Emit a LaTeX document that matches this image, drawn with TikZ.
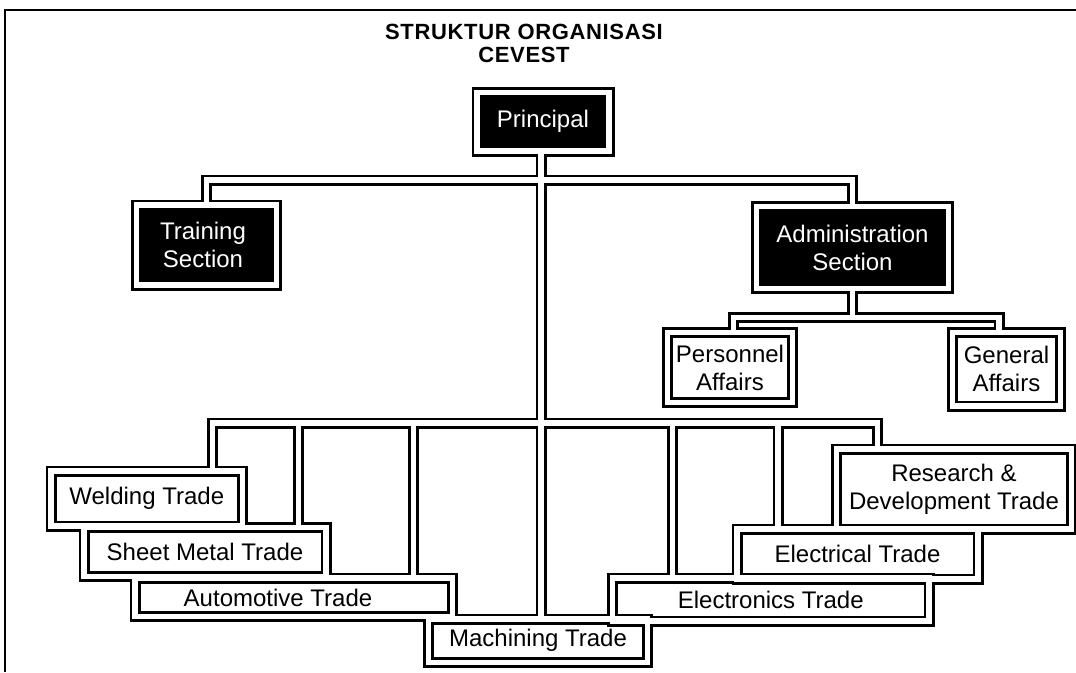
\documentclass[tikz,border=0pt]{standalone}
\usepackage{fontspec}
\newfontfamily\lab{Liberation Sans}
\newcommand\orgtubes[1]{%
  \foreach \n in {P,TR,AD,PE,GA,WE,SM,AU,MA,EN,EL,RD}
    \draw[#1] (\n.north west) rectangle (\n.south east);
  \draw[#1] (mtop) -- (mbot);
  \draw[#1] (TR.north) |- (ubus) -| (AD.north);
  \draw[#1] (AD.south) |- (abus);
  \draw[#1] (ppipe) |- (abus) -| (gpipe);
  \draw[#1] (b1) |- (lbus) -| (b7);
  \foreach \p in {p2,p3,p5,p6}
    \draw[#1] (\p |- lbus) -- (\p);
}
\begin{document}
\begin{tikzpicture}[x=1pt,y=-1pt,
  frame/.style={rectangle,inner sep=0pt,outer sep=0pt},
  tubeout/.style={line width=11pt,black,line join=miter},
  tubein/.style={line width=5.5pt,white,line join=miter},
  txt/.style={font=\lab\fontsize{24}{28}\selectfont,align=center,inner sep=0pt},
  dtxt/.style={txt,text=white,font=\lab\fontsize{24}{28}\selectfont},
  ttl/.style={font=\lab\bfseries\fontsize{22}{26}\selectfont\addfontfeatures{LetterSpace=3},inner sep=0pt}]
\useasboundingbox (0,0) rectangle (1076,672);
\fill[white] (0,0) rectangle (1076,672);
% page border
\draw[line width=2.5pt] (5,672) -- (5,10) -- (1076,10);
% frames (centre lines of the double frames)
\node[frame,minimum width=132pt,minimum height=58.5pt] (P)  at (543,121.75) {};
\node[frame,minimum width=140pt,minimum height=80pt]   (TR) at (206.5,245) {};
\node[frame,minimum width=192pt,minimum height=82pt]   (AD) at (852.5,247.5) {};
\node[frame,minimum width=125pt,minimum height=70pt]   (PE) at (730,367.5) {};
\node[frame,minimum width=108pt,minimum height=73.5pt] (GA) at (1006.5,369.25) {};
\node[frame,minimum width=191.5pt,minimum height=55pt] (WE) at (146.75,498.5) {};
\node[frame,minimum width=242pt,minimum height=49pt]   (SM) at (205,552) {};
\node[frame,minimum width=317.5pt,minimum height=38.5pt] (AU) at (293.75,597.25) {};
\node[frame,minimum width=219pt,minimum height=43.5pt] (MA) at (538,640.75) {};
\node[frame,minimum width=316.5pt,minimum height=43pt] (EN) at (770.75,599.5) {};
\node[frame,minimum width=241pt,minimum height=50pt]   (EL) at (857.5,554) {};
\node[frame,minimum width=235pt,minimum height=80pt]   (RD) at (954,489) {};
% connector points
\coordinate (mtop) at (541,151);
\coordinate (mbot) at (541,619);
\coordinate (ubus) at (541,180);
\coordinate (abus) at (852.5,317.5);
\coordinate (ppipe) at (733.5,332.5);
\coordinate (gpipe) at (999,332.5);
\coordinate (lbus) at (541,423);
\coordinate (b1) at (212.5,471);
\coordinate (b7) at (877.5,449);
\coordinate (p2) at (298.5,527.5);
\coordinate (p3) at (413.5,578);
\coordinate (p5) at (672.5,578);
\coordinate (p6) at (778,529);
% double-line tubes: outer strokes, dark fills, inner white channels
\orgtubes{tubeout}
\foreach \n in {P,TR,AD} \fill[black] (\n.north west) rectangle (\n.south east);
\orgtubes{tubein}
% texts
\node[ttl] (title) at (524,32) {STRUKTUR ORGANISASI};
\node[ttl] (cev) at (524,55) {CEVEST};
\node[dtxt] (tP)  at (P)  {Principal};
\node[dtxt] (tTR) at (203,245) {Training\\Section};
\node[dtxt] (tAD) at (AD) {Administration\\Section};
\node[txt] (tPE) at (PE) {Personnel\\Affairs};
\node[txt] (tGA) at (GA) {General\\Affairs};
\node[txt] (tWE) at (WE) {Welding Trade};
\node[txt] (tSM) at (SM) {Sheet Metal Trade};
\node[txt] (tAU) at (278,597.5) {Automotive Trade};
\node[txt] (tMA) at (MA) {Machining Trade};
\node[txt] (tEN) at (EN) {Electronics Trade};
\node[txt] (tEL) at (EL) {Electrical Trade};
\node[txt] (tRD) at (RD) {Research \&\\Development Trade};
\end{tikzpicture}
\end{document}
